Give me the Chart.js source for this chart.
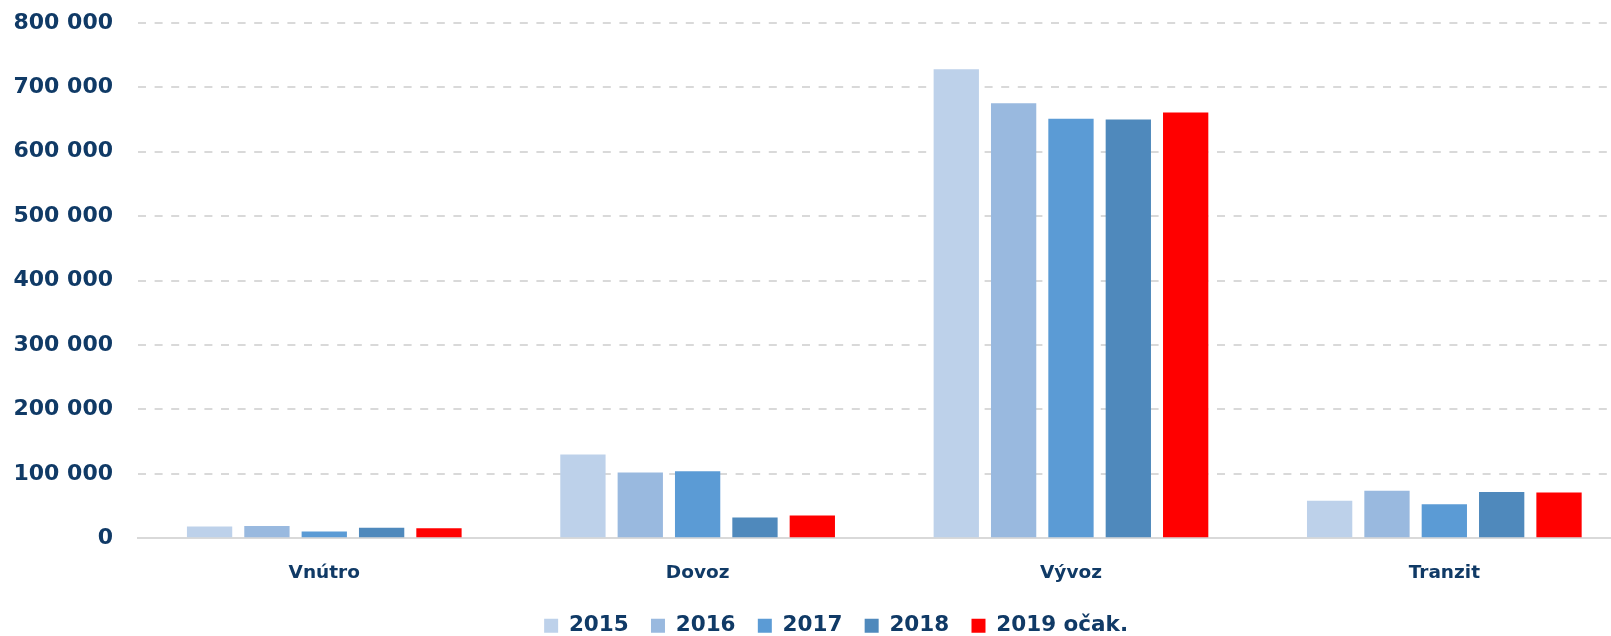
<!DOCTYPE html>
<html>
<head>
<meta charset="utf-8">
<script src="https://cdn.jsdelivr.net/npm/chart.js@4"></script>
<style>
    html, body { margin: 0; padding: 0; background: #fff; overflow: hidden; }
    #wrap { position: absolute; left: 0; top: -15px; width: 1640px; height: 680px; }
</style>
</head>
<body>
<div id="wrap"><canvas id="chart" width="1640" height="680"></canvas></div>
<script>
// Categories and series
const categories = ['Vnútro', 'Dovoz', 'Vývoz', 'Tranzit'];
const seriesNames = ['2015', '2016', '2017', '2018', '2019 očak.'];
const seriesColors = ['#BDD1EA', '#99B9DF', '#5B9BD5', '#4F89BC', '#FF0000'];

const v2015 = [18200, 130000, 728000, 58500];
const v2016 = [19300, 102000, 675000, 74000];
const v2017 = [10600, 104000, 651000, 53000];
const v2018 = [16600, 32500, 650000, 72000];
const v2019 = [15600, 35600, 661000, 71000];

const yMin = 0;
const yMax = 800000;
const yStep = 100000;

const textColor = '#103A66';
const gridColor = '#D9D9D9';

function formatThousands(v) {
    return String(v).replace(/\B(?=(\d{3})+(?!\d))/g, ' ');
}

const allValues = [v2015, v2016, v2017, v2018, v2019];

// shift legend row so it sits where the original one does
const legendShift = {
    id: 'legendShift',
    afterLayout(chart) {
        chart.legend.left += 20.6;
        chart.legend.right += 20.6;
    }
};

new Chart(document.getElementById('chart'), {
    type: 'bar',
    data: {
        labels: categories,
        datasets: seriesNames.map((name, i) => ({
            label: name,
            data: allValues[i],
            backgroundColor: seriesColors[i],
            borderWidth: 0,
            categoryPercentage: 0.768,
            barPercentage: 0.79
        }))
    },
    options: {
        responsive: false,
        animation: false,
        layout: {
            padding: { top: 0, right: 9, bottom: 18.5, left: 0 }
        },
        plugins: {
            legend: {
                position: 'bottom',
                labels: {
                    boxWidth: 14,
                    boxHeight: 14,
                    padding: 22.25,
                    color: textColor,
                    font: { family: 'DejaVu Sans', size: 21.5, weight: 'bold' }
                }
            },
            tooltip: { enabled: false }
        },
        scales: {
            x: {
                grid: { display: false, drawTicks: false },
                border: { display: true, color: gridColor, width: 2 },
                ticks: {
                    color: textColor,
                    padding: 23.6,
                    font: { family: 'DejaVu Sans', size: 18.5, weight: 'bold' }
                },
                afterFit: (scale) => { scale.height = 54.4; }
            },
            y: {
                min: yMin,
                max: yMax,
                grid: { color: gridColor, lineWidth: 2, drawTicks: false },
                border: { display: false, dash: [8, 8.6] },
                ticks: {
                    stepSize: yStep,
                    color: textColor,
                    padding: 24.6,
                    font: { family: 'DejaVu Sans', size: 22, weight: 'bold' },
                    callback: (v) => formatThousands(v)
                },
                afterFit: (scale) => { scale.width = 137.6; }
            }
        }
    },
    plugins: [legendShift]
});
</script>
</body>
</html>
